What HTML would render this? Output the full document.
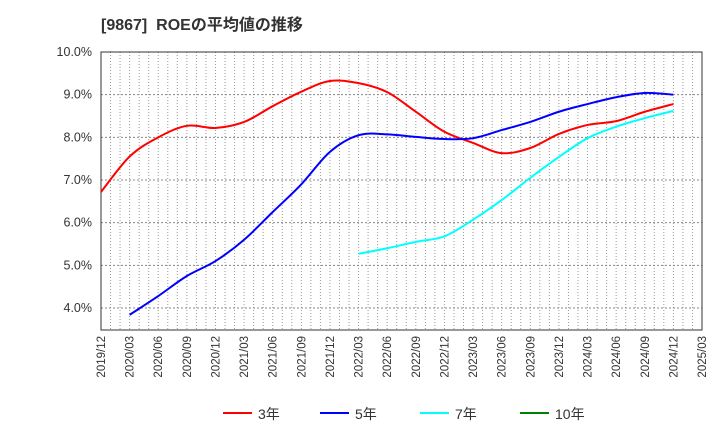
<!DOCTYPE html>
<html><head><meta charset="utf-8"><style>
body{margin:0;background:#fff;}
svg text{font-family:"Liberation Sans","Noto Sans CJK JP",sans-serif;}
</style></head><body>
<svg id="c" width="720" height="440" xmlns="http://www.w3.org/2000/svg">
<text x="101" y="30" font-size="16" font-weight="bold" fill="#333" style="white-space:pre">[9867]  ROEの平均値の推移</text>
<g id="grid"></g><g id="axes"></g><g id="series"></g>
<g id="legend"></g>
</svg>
<script>
const xLabels=["2019/12","2020/03","2020/06","2020/09","2020/12","2021/03","2021/06","2021/09","2021/12","2022/03","2022/06","2022/09","2022/12","2023/03","2023/06","2023/09","2023/12","2024/03","2024/06","2024/09","2024/12","2025/03"];
const yTicks=[4,5,6,7,8,9,10];
const roe3=[6.72,7.55,8.0,8.27,8.22,8.36,8.73,9.07,9.32,9.27,9.06,8.6,8.13,7.87,7.63,7.75,8.08,8.29,8.38,8.6,8.78];
const roe5=[null,3.84,4.28,4.75,5.1,5.6,6.25,6.9,7.66,8.05,8.07,8.01,7.96,7.98,8.17,8.36,8.6,8.78,8.94,9.04,9.0];
const roe7=[null,null,null,null,null,null,null,null,null,5.27,5.4,5.55,5.68,6.07,6.53,7.05,7.54,7.98,8.25,8.45,8.62];
const roe10=[];
const NS="http://www.w3.org/2000/svg";
const L=101,R=702,T=52,B=330;
const X=i=>L+i*(R-L)/(xLabels.length-1);
const Y=v=>T+(10-v)*(308-52)/6;
function mk(tag,attrs,parent){const e=document.createElementNS(NS,tag);for(const k in attrs)e.setAttribute(k,attrs[k]);document.getElementById(parent).appendChild(e);return e;}
for(let m=1;m<(xLabels.length-1)*3;m++){const x=L+m*(R-L)/((xLabels.length-1)*3);
const g=mk('line',{x1:x,x2:x,y1:T,y2:B,stroke:'#999','stroke-width':1,'stroke-dasharray':'1,2'},'grid');

}
yTicks.forEach(v=>{const y=Y(v);
const g=mk('line',{x1:L,x2:R,y1:y,y2:y,stroke:'#888','stroke-width':1,'stroke-dasharray':'2,2'},'grid');


const t=mk('text',{x:L-9,y:y+4,'font-size':12.5,fill:'#333','text-anchor':'end'},'axes');t.textContent=v.toFixed(1)+'%';

});
const fr=mk('rect',{x:L,y:T,width:R-L,height:B-T,fill:'none',stroke:'#333','stroke-width':1},'axes');


xLabels.forEach((s,i)=>{const x=X(i)+4;
const t=mk('text',{x:x,y:B+6,'font-size':11.5,fill:'#333','text-anchor':'end',transform:`rotate(-90 ${x} ${B+6})`},'axes');t.textContent=s;

});
function path(arr){const p=[];arr.forEach((v,i)=>{if(v!=null)p.push([X(i),Y(v)]);});if(p.length<2)return '';
let d=`M${p[0][0]},${p[0][1]}`;
for(let i=0;i<p.length-1;i++){const p0=p[i-1]||p[i],p1=p[i],p2=p[i+1],p3=p[i+2]||p2;
d+=` C${p1[0]+(p2[0]-p0[0])/6},${p1[1]+(p2[1]-p0[1])/6} ${p2[0]-(p3[0]-p1[0])/6},${p2[1]-(p3[1]-p1[1])/6} ${p2[0]},${p2[1]}`;}
return d;}
[[roe3,'#ff0000','line-3yr'],[roe5,'#0000ff','line-5yr'],[roe7,'#00ffff','line-7yr'],[roe10,'#008000','line-10yr']].forEach(([a,c,n])=>{
const d=path(a);if(!d)return;
const e=mk('path',{d:d,fill:'none',stroke:c,'stroke-width':2},'series');

});
[['3年','#ff0000',223],['5年','#0000ff',320],['7年','#00ffff',420],['10年','#008000',520]].forEach(([s,c,x])=>{
const l=mk('line',{x1:x,x2:x+29,y1:413,y2:413,stroke:c,'stroke-width':2},'legend');


const t=mk('text',{x:x+35,y:419,'font-size':14,fill:'#333'},'legend');t.textContent=s;

});
</script>
</body></html>
